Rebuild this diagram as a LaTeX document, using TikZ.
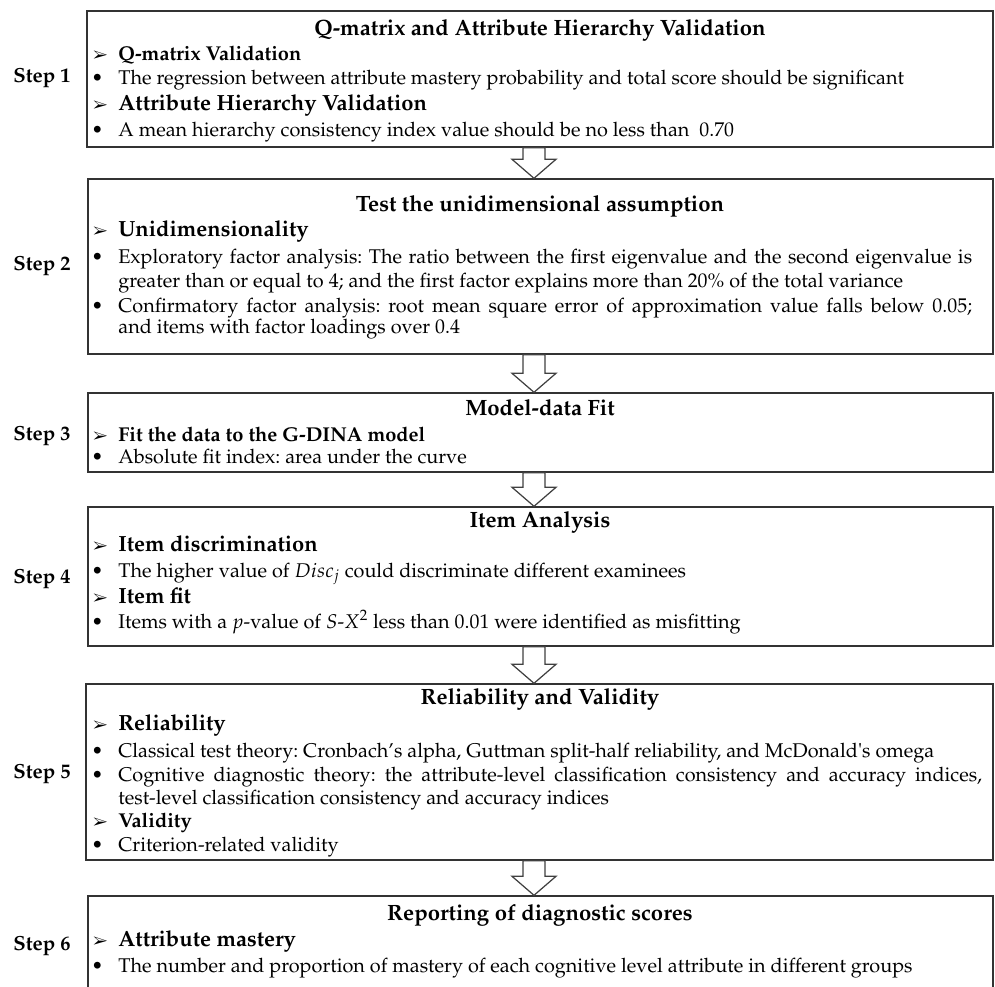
\documentclass[tikz,border=0pt]{standalone}
\usepackage[T1]{fontenc}
\usepackage{mathpazo}
\usepackage{pifont}
\usetikzlibrary{calc,fit}

\frenchspacing
\newcommand{\hdmark}{\llap{{\fontsize{9}{9}\selectfont\ding{226}}\hspace{0.21cm}}}
\newcommand{\blmark}{\llap{\textbullet\hspace{0.30cm}}}

\tikzset{
  stepbox/.style={draw=black!80, line width=0.8pt, inner sep=0pt},
  titletext/.style={anchor=base, inner sep=0pt, font=\fontsize{12.6}{14}\selectfont\bfseries},
  bighead/.style={anchor=base west, inner sep=0pt, font=\fontsize{12.5}{14}\selectfont\bfseries},
  smallhead/.style={anchor=base west, inner sep=0pt, font=\fontsize{11.4}{13}\selectfont\bfseries},
  bodytext/.style={anchor=base west, inner sep=0pt, font=\fontsize{11.3}{13}\selectfont},
  steplabel/.style={anchor=base, inner sep=0pt, font=\fontsize{11.6}{13}\selectfont\bfseries},
  arrowline/.style={draw=black!75, line width=0.7pt, fill=white},
}

% hollow block arrow from the bottom of #1 to the top of #2
\newcommand{\flowarrow}[2]{%
  \draw [arrowline] ($(#1.south -| ax)+(-11,0)$) -- ($(#2.north -| ax)+(-11,-19)$)
    -- ($(#2.north -| ax)+(-22,-19)$) -- (#2.north -| ax)
    -- ($(#2.north -| ax)+(22,-19)$) -- ($(#2.north -| ax)+(11,-19)$)
    -- ($(#1.south -| ax)+(11,0)$) -- cycle;%
}

\begin{document}
\begin{tikzpicture}[x=0.02cm, y=-0.02cm]
        \useasboundingbox (0,0) rectangle (995,987);
        \coordinate (ax) at (534,0);

        % Drawing box of step 1
        \node (box1) [stepbox, fit={(87,11) (993,147)}] {};
        \draw (42,82) node (s1) [steplabel] {Step 1};%
        \draw (540,35) node (t1) [titletext] {Q-matrix and Attribute Hierarchy Validation};%
        \draw (118,60) node (h1a) [smallhead] {\hdmark Q-matrix Validation};%
        \draw (118,84) node (l1a) [bodytext] {\blmark The regression between attribute mastery probability and total score should be significant};%
        \draw (118,110) node (h1b) [bighead] {\hdmark Attribute Hierarchy Validation};%
        \draw (118,136) node (l1b) [bodytext] {\blmark A mean hierarchy consistency index value should be no less than\ \ 0.70};%

        % Drawing box of step 2
        \node (box2) [stepbox, fit={(88,179) (993,354)}] {};
        \draw (42,270) node (s2) [steplabel] {Step 2};%
        \draw (540,211) node (t2) [titletext] {Test the unidimensional assumption};%
        \draw (118,236) node (h2a) [bighead] {\hdmark Unidimensionality};%
        \draw (118,263) node (l2a) [bodytext] {\blmark\makebox[17.08cm][s]{Exploratory factor analysis: The ratio between the first eigenvalue and the second eigenvalue is}};%
        \draw (118,287) node (l2b) [bodytext] {greater than or equal to 4; and the first factor explains more than 20\% of the total variance};%
        \draw (118,312) node (l2c) [bodytext] {\blmark\makebox[17.08cm][s]{Confirmatory factor analysis: root mean square error of approximation value falls below 0.05;}};%
        \draw (118,333) node (l2d) [bodytext] {and items with factor loadings over 0.4};%

        % Drawing box of step 3
        \node (box3) [stepbox, fit={(88,393) (993,472)}] {};
        \draw (42,440) node (s3) [steplabel] {Step 3};%
        \draw (540,415) node (t3) [titletext] {Model-data Fit};%
        \draw (118,441) node (h3a) [smallhead] {\hdmark Fit the data to the G-DINA model};%
        \draw (118,463) node (l3a) [bodytext] {\blmark Absolute fit index: area under the curve};%

        % Drawing box of step 4
        \node (box4) [stepbox, fit={(88,507) (993,646)}] {};
        \draw (42,583) node (s4) [steplabel] {Step 4};%
        \draw (540,527) node (t4) [titletext] {Item Analysis};%
        \draw (118,551) node (h4a) [bighead] {\hdmark Item discrimination};%
        \draw (118,577) node (l4a) [bodytext] {\blmark The higher value of $Disc_j$ could discriminate different examinees};%
        \draw (118,603) node (h4b) [bighead] {\hdmark Item fit};%
        \draw (118,628) node (l4b) [bodytext] {\blmark Items with a $p$-value of $S$-$X^2$ less than 0.01 were identified as misfitting};%

        % Drawing box of step 5
        \node (box5) [stepbox, fit={(86,684) (993,860)}] {};
        \draw (42,778) node (s5) [steplabel] {Step 5};%
        \draw (540,704) node (t5) [titletext] {Reliability and Validity};%
        \draw (118,730) node (h5a) [bighead] {\hdmark Reliability};%
        \draw (118,757) node (l5a) [bodytext] {\blmark Classical test theory: Cronbach's alpha, Guttman split-half reliability, and McDonald\textquotesingle s omega};%
        \draw (118,781) node (l5b) [bodytext] {\blmark\makebox[17.28cm][s]{Cognitive diagnostic theory: the attribute-level classification consistency and accuracy indices,}};%
        \draw (118,804) node (l5c) [bodytext] {test-level classification consistency and accuracy indices};%
        \draw (118,827) node (h5b) [smallhead] {\hdmark Validity};%
        \draw (118,851) node (l5d) [bodytext] {\blmark Criterion-related validity};%

        % Drawing box of step 6
        \node (box6) [stepbox, fit={(88,896) (993,1000)}] {};
        \draw (42,950) node (s6) [steplabel] {Step 6};%
        \draw (540,920) node (t6) [titletext] {Reporting of diagnostic scores};%
        \draw (118,946) node (h6a) [bighead] {\hdmark Attribute mastery};%
        \draw (118,972) node (l6a) [bodytext] {\blmark The number and proportion of mastery of each cognitive level attribute in different groups};%

        % Drawing arrows between steps
        \flowarrow{box1}{box2}
        \flowarrow{box2}{box3}
        \flowarrow{box3}{box4}
        \flowarrow{box4}{box5}
        \flowarrow{box5}{box6}
    \end{tikzpicture}
\end{document}
